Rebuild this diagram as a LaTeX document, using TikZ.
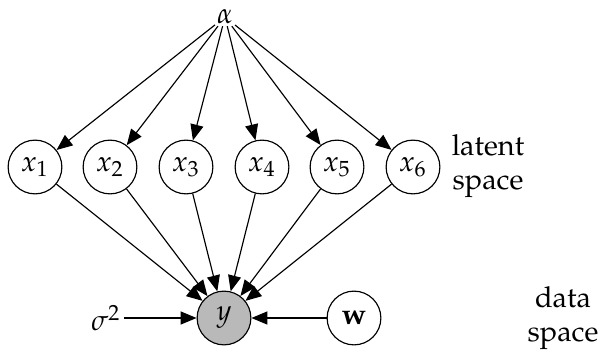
\documentclass[tikz,border=0pt]{standalone}
\usepackage[T1]{fontenc}
\usepackage{mathpazo}
\usetikzlibrary{arrows.meta}
\begin{document}
\begin{tikzpicture}[x=0.346pt,y=-0.346pt,
  var/.style={circle,draw,line width=0.4pt,minimum size=18.6pt,inner sep=0pt},
  obs/.style={var,fill=gray!55},
  edge/.style={line width=0.4pt,-{Triangle[length=5.5pt,width=4.5pt]}},
  lbl/.style={align=center,inner sep=0pt}]
\useasboundingbox (0,0) rectangle (602,351);
\node[inner sep=0.5pt] (alpha) at (225,17) {$\alpha$};
\node[var] (x1) at (35,167) {$x_1$};
\node[var] (x2) at (110,167) {$x_2$};
\node[var] (x3) at (186,167) {$x_3$};
\node[var] (x4) at (262,167) {$x_4$};
\node[var] (x5) at (337,167) {$x_5$};
\node[var] (x6) at (413,167) {$x_6$};
\node[obs] (y) at (224,318) {$y$};
\node[var] (w) at (354,318) {$\mathbf{w}$};
\node[inner sep=1pt] (sigma) at (106,318) {$\sigma^2$};
\node[lbl] (lat) at (488,166) {latent\\space};
\node[lbl] (dat) at (563,318) {data\\space};
\foreach \i in {1,...,6} {
  \draw[edge] (alpha) -- (x\i);
  \draw[edge] (x\i) -- (y);
}
\draw[edge] (sigma) -- (y);
\draw[edge] (w) -- (y);
\end{tikzpicture}
\end{document}
